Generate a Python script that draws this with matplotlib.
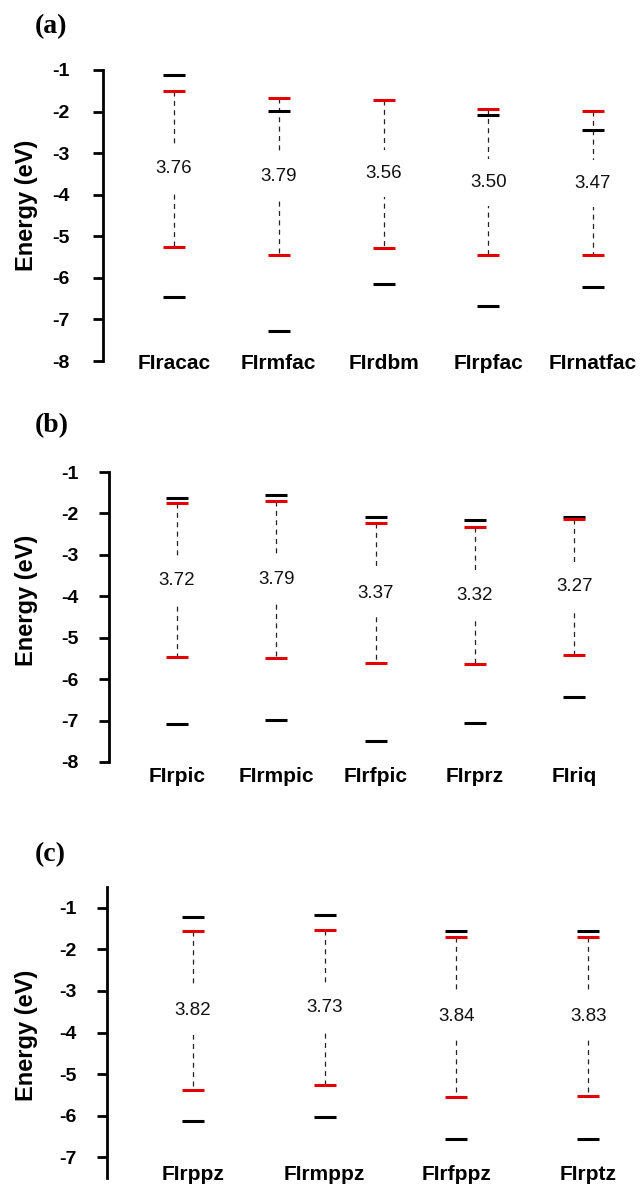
import matplotlib
matplotlib.use("Agg")
import matplotlib.pyplot as plt
import numpy as np

# ---------------- data ----------------
cats_a = ["FIracac", "FIrmfac", "FIrdbm", "FIrpfac", "FIrnatfac"]
lumo_red_a = [-1.50, -1.67, -1.71, -1.95, -1.99]
homo_red_a = [-5.26, -5.46, -5.27, -5.45, -5.46]
lumo_blk_a = [-1.11, -1.98, np.nan, -2.09, -2.44]
homo_blk_a = [-6.46, -7.28, -6.15, -6.68, -6.23]
gap_a = ["3.76", "3.79", "3.56", "3.50", "3.47"]

cats_b = ["FIrpic", "FIrmpic", "FIrfpic", "FIrprz", "FIriq"]
lumo_red_b = [-1.75, -1.71, -2.24, -2.32, -2.14]
homo_red_b = [-5.47, -5.50, -5.61, -5.64, -5.41]
lumo_blk_b = [-1.63, -1.55, -2.09, -2.15, -2.08]
homo_blk_b = [-7.09, -6.98, -7.49, -7.06, -6.42]
gap_b = ["3.72", "3.79", "3.37", "3.32", "3.27"]

cats_c = ["FIrppz", "FIrmppz", "FIrfppz", "FIrptz"]
lumo_red_c = [-1.57, -1.54, -1.70, -1.70]
homo_red_c = [-5.39, -5.27, -5.54, -5.53]
lumo_blk_c = [-1.22, -1.17, -1.56, -1.55]
homo_blk_c = [-6.13, -6.03, -6.57, -6.57]
gap_c = ["3.82", "3.73", "3.84", "3.83"]

yticks_a = [-1, -2, -3, -4, -5, -6, -7, -8]
yticks_b = [-1, -2, -3, -4, -5, -6, -7, -8]
yticks_c = [-1, -2, -3, -4, -5, -6, -7]

RED = "#e50000"
SANS = ["Liberation Sans", "DejaVu Sans"]
W, H = 642, 1185
fig = plt.figure(figsize=(W / 100, H / 100), dpi=100)


def panel(left, top, bottom, first_px, step_px, cats, lr, hr, lb, hb, gaps,
          yticks, ylim, lab_y, tick_pad, ylab_y, tag, tag_y):
    right = W
    ax = fig.add_axes([left / W, 1 - bottom / H, (right - left) / W, (bottom - top) / H])
    n = len(cats)
    x = np.arange(n)
    hw = 11.0 / step_px
    for i in range(n):
        ax.plot([x[i], x[i]], [lr[i], hr[i]], ls=(0, (4, 3.5)), color="#222222", lw=0.9, zorder=1)
    ax.hlines(lb, x - hw, x + hw, color="black", lw=2.2, zorder=2)
    ax.hlines(hb, x - hw, x + hw, color="black", lw=2.2, zorder=2)
    ax.hlines(lr, x - hw, x + hw, color=RED, lw=2.2, zorder=3)
    ax.hlines(hr, x - hw, x + hw, color=RED, lw=2.2, zorder=3)
    for i in range(n):
        ax.text(x[i], (lr[i] + hr[i]) / 2, gaps[i], ha="center", va="center",
                fontsize=13.5, family=SANS, color="#111111", zorder=4,
                bbox=dict(facecolor="white", edgecolor="none", pad=11))
    ax.set_xlim(-(first_px - left) / step_px, (right - first_px) / step_px)
    ax.set_ylim(*ylim)
    ax.set_yticks(yticks)
    ax.set_yticklabels([str(t) for t in yticks], fontsize=14, fontweight="bold", family=SANS)
    ax.tick_params(axis="y", direction="out", length=7, width=2, pad=tick_pad * 0.72)
    ax.set_xticks([])
    for s in ["top", "right", "bottom"]:
        ax.spines[s].set_visible(False)
    ax.spines["left"].set_linewidth(2)
    ax.patch.set_alpha(0)
    for i in range(n):
        xf = (first_px + i * step_px) / W
        fig.text(xf, 1 - lab_y / H, cats[i], ha="center", va="center", fontsize=15,
                 fontweight="bold", family=SANS)
    fig.text(27 / W, 1 - ylab_y / H, "Energy (eV)", rotation=90, ha="center", va="center",
             fontsize=17, fontweight="bold", family=SANS)
    fig.text(35 / W, 1 - tag_y / H, tag, fontsize=20, fontweight="bold",
             family=["Liberation Serif", "DejaVu Serif"], ha="left", va="center")
    return ax


panel(102.5, 70, 361, 174, 104.75, cats_a, lumo_red_a, homo_red_a, lumo_blk_a, homo_blk_a,
      gap_a, yticks_a, (-8, -1), 363, 23, 205, "(a)", 27)
panel(108.6, 472, 762, 177, 99.3, cats_b, lumo_red_b, homo_red_b, lumo_blk_b, homo_blk_b,
      gap_b, yticks_b, (-8, -1), 777, 20, 600, "(b)", 426)
panel(106.6, 887, 1178, 193, 131.7, cats_c, lumo_red_c, homo_red_c, lumo_blk_c, homo_blk_c,
      gap_c, yticks_c, (-7.5, -0.5), 1174, 20, 1035, "(c)", 855)

fig.savefig("out.png", dpi=100, facecolor="white")
